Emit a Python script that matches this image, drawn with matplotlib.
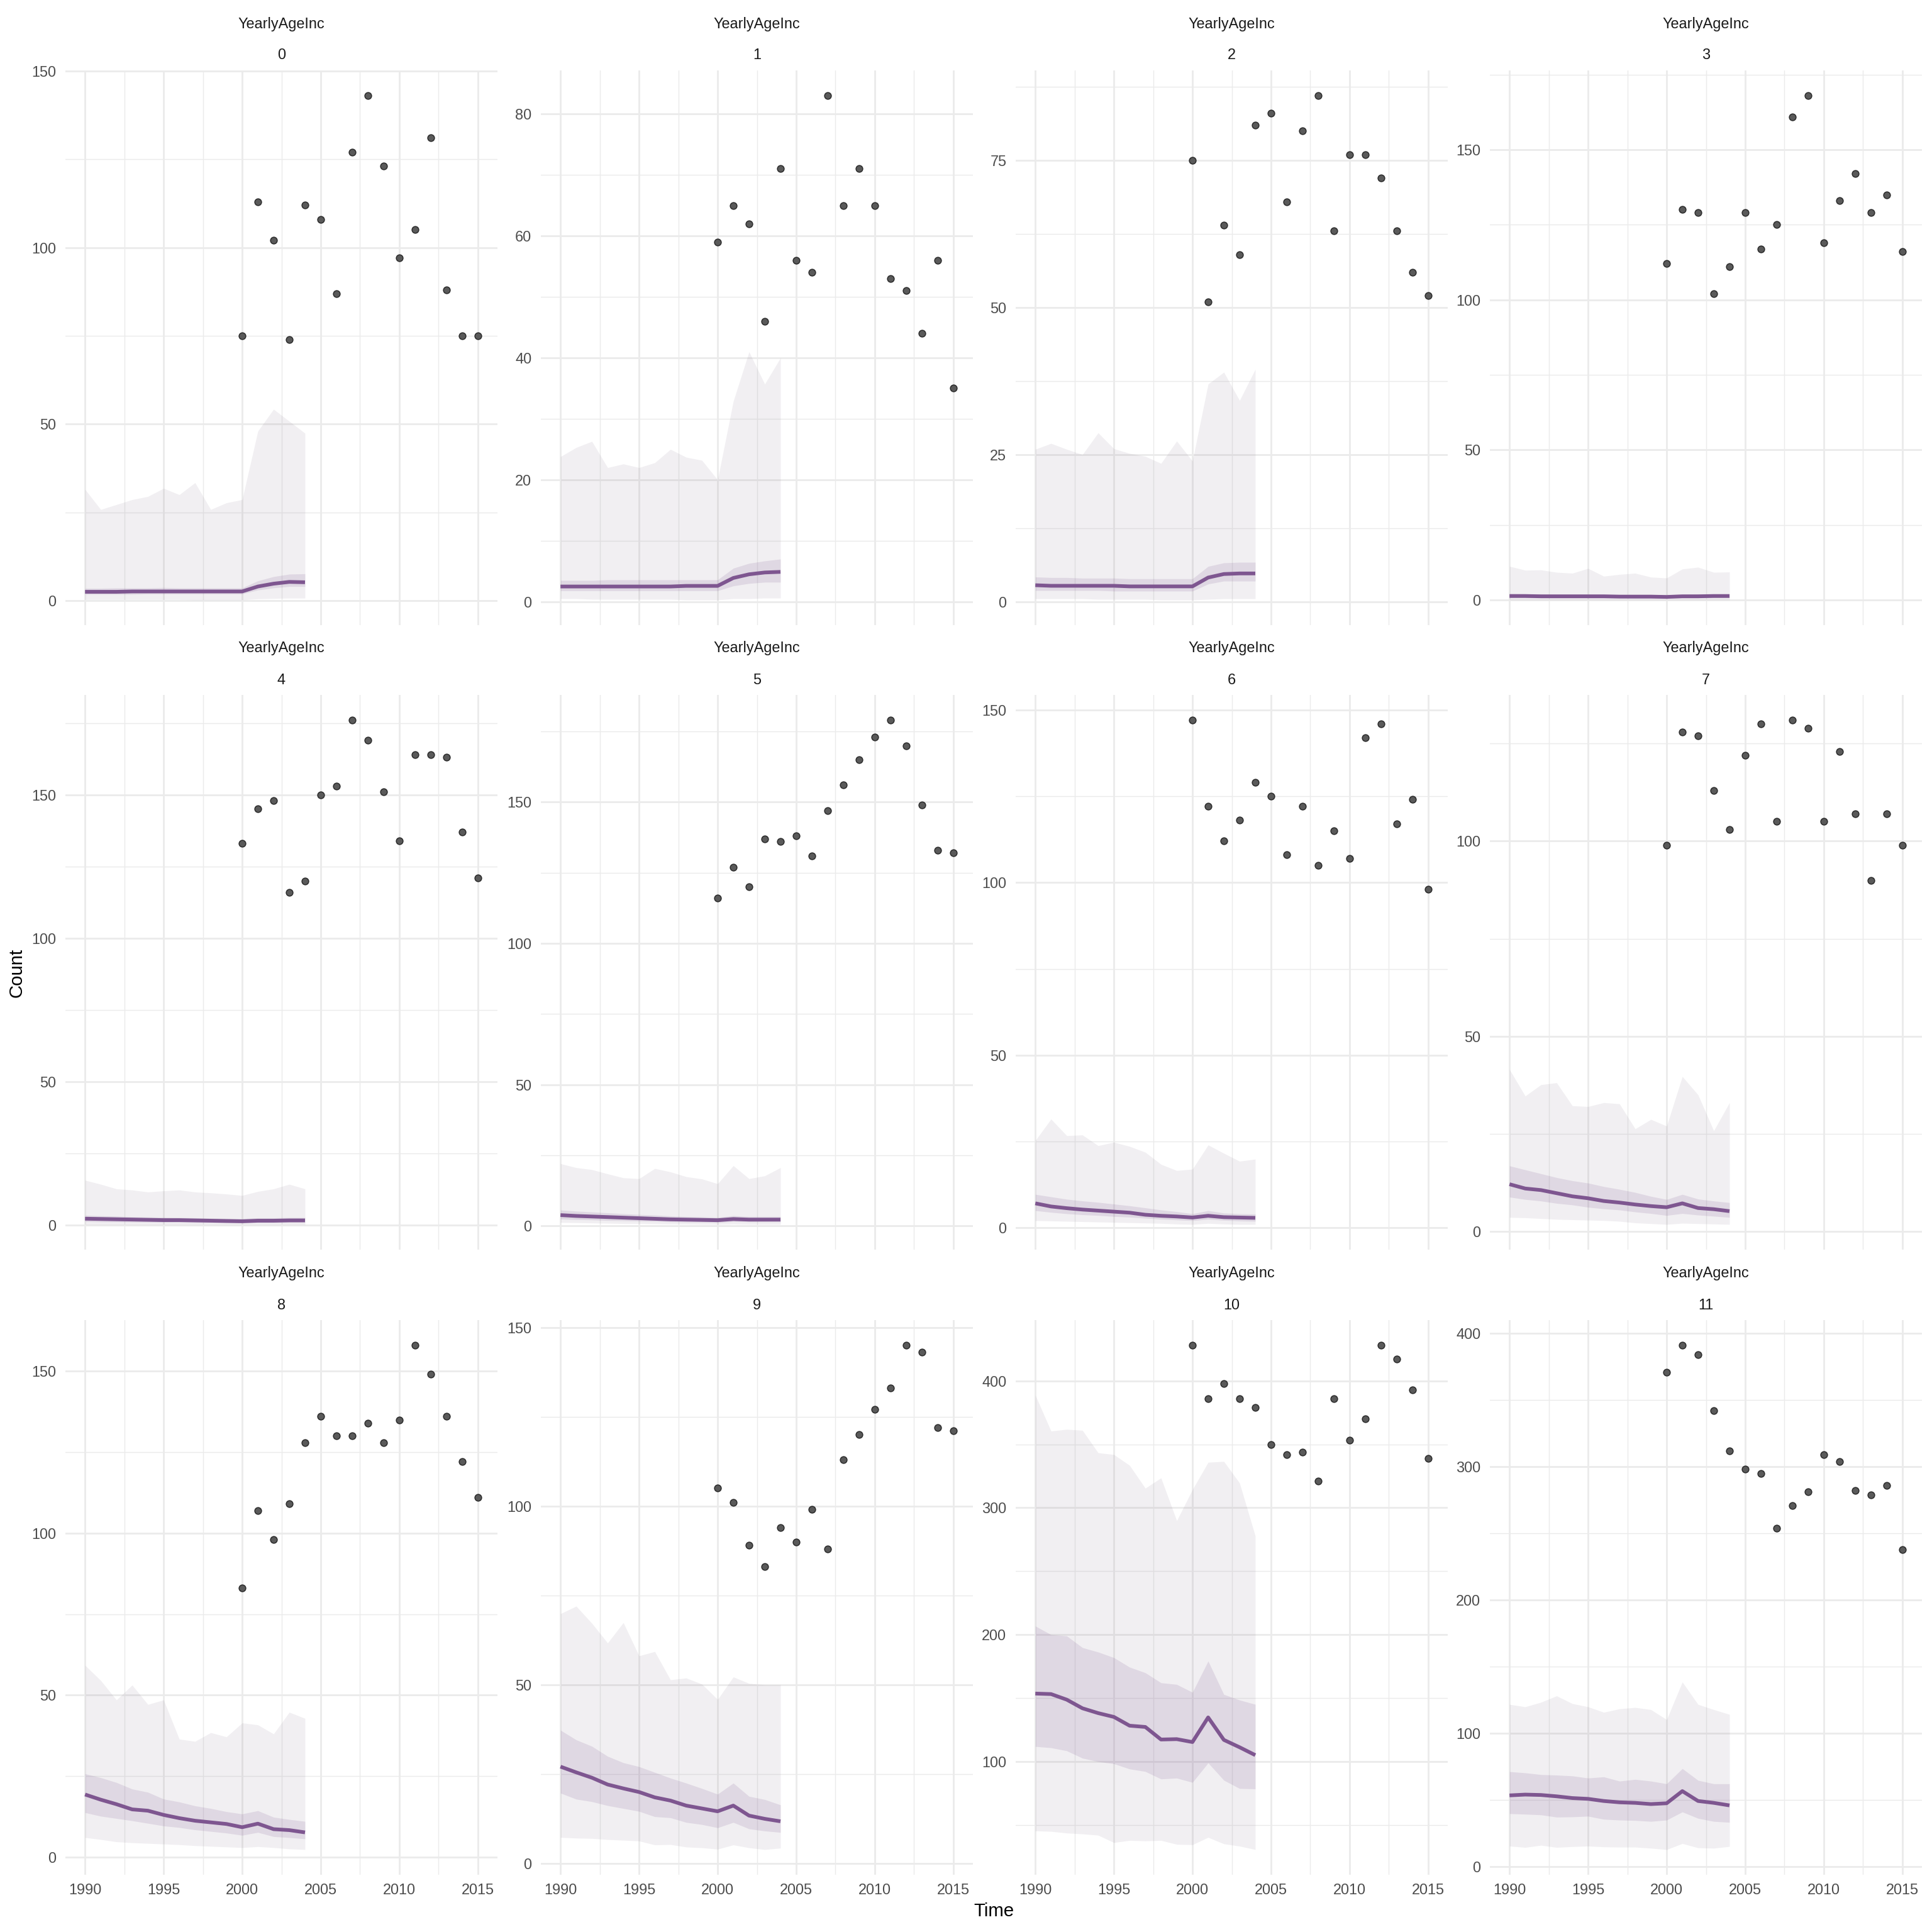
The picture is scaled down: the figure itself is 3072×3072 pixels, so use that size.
import numpy as np
import matplotlib
matplotlib.use("Agg")
import matplotlib.pyplot as plt
from matplotlib.ticker import MultipleLocator

plt.rcParams['font.family'] = ['Liberation Sans', 'DejaVu Sans']

# x categories
years_fit = np.arange(1990, 2005)
years_obs = np.arange(2000, 2016)
ages = list(range(12))

# observed yearly counts per age class (2000-2015)
counts = [
    [75, 113, 102, 74, 112, 108, 87, 127, 143, 123, 97, 105, 131, 88, 75, 75],
    [59, 65, 62, 46, 71, 56, 54, 83, 65, 71, 65, 53, 51, 44, 56, 35],
    [75, 51, 64, 59, 81, 83, 68, 80, 86, 63, 76, 76, 72, 63, 56, 52],
    [112, 130, 129, 102, 111, 129, 117, 125, 161, 168, 119, 133, 142, 129, 135, 116],
    [133, 145, 148, 116, 120, 150, 153, 176, 169, 151, 134, 164, 164, 163, 137, 121],
    [116, 127, 120, 137, 136, 138, 131, 147, 156, 165, 173, 179, 170, 149, 133, 132],
    [147, 122, 112, 118, 129, 125, 108, 122, 105, 115, 107, 142, 146, 117, 124, 98],
    [99, 128, 127, 113, 103, 122, 130, 105, 131, 129, 105, 123, 107, 90, 107, 99],
    [83, 107, 98, 109, 128, 136, 130, 130, 134, 128, 135, 158, 149, 136, 122, 111],
    [105, 101, 89, 83, 94, 90, 99, 88, 113, 120, 127, 133, 145, 143, 122, 121],
    [428, 386, 398, 386, 379, 350, 342, 344, 321, 386, 353, 370, 428, 417, 393, 339],
    [371, 391, 384, 342, 312, 298, 295, 254, 271, 281, 309, 304, 282, 279, 286, 238],
]

# fitted median (1990-2004)
median = [
    [2.5, 2.5, 2.5, 2.6, 2.6, 2.6, 2.6, 2.6, 2.6, 2.6, 2.6, 4.0, 4.8, 5.3, 5.2],
    [2.5, 2.5, 2.5, 2.5, 2.5, 2.5, 2.5, 2.5, 2.6, 2.6, 2.6, 3.9, 4.5, 4.8, 4.9],
    [2.8, 2.7, 2.7, 2.7, 2.7, 2.7, 2.6, 2.6, 2.6, 2.6, 2.6, 4.1, 4.7, 4.8, 4.8],
    [1.3, 1.3, 1.2, 1.2, 1.2, 1.2, 1.2, 1.1, 1.1, 1.1, 1.0, 1.2, 1.2, 1.3, 1.3],
    [2.2, 2.1, 2.0, 1.9, 1.8, 1.7, 1.7, 1.6, 1.5, 1.4, 1.3, 1.5, 1.5, 1.6, 1.6],
    [3.8, 3.5, 3.3, 3.1, 2.9, 2.7, 2.5, 2.3, 2.2, 2.1, 2.0, 2.4, 2.2, 2.2, 2.2],
    [7.1, 6.2, 5.7, 5.3, 5.0, 4.7, 4.4, 3.8, 3.5, 3.3, 3.0, 3.5, 3.1, 3.0, 2.9],
    [12.1, 11.0, 10.6, 9.8, 9.0, 8.5, 7.8, 7.4, 6.9, 6.5, 6.2, 7.2, 6.0, 5.7, 5.2],
    [19.3, 17.7, 16.3, 14.7, 14.3, 13.0, 12.0, 11.2, 10.7, 10.2, 9.2, 10.3, 8.6, 8.3, 7.6],
    [27.1, 25.5, 24.0, 22.1, 21.0, 20.0, 18.5, 17.6, 16.2, 15.4, 14.6, 16.2, 13.4, 12.5, 11.8],
    [153.6, 153.2, 148.8, 142.0, 138.2, 135.2, 128.3, 127.3, 117.4, 117.7, 115.4, 134.8, 117.1, 111.3, 105.1],
    [53.6, 54.2, 53.9, 52.9, 51.6, 51.0, 49.4, 48.4, 48.0, 47.1, 47.7, 56.8, 49.4, 48.0, 46.1],
]

# 50% interval
lo50 = [
    [1.8, 1.8, 1.8, 1.8, 1.9, 1.9, 1.9, 1.9, 1.9, 1.9, 1.9, 3.0, 3.6, 4.0, 4.0],
    [1.8, 1.8, 1.8, 1.8, 1.8, 1.8, 1.8, 1.8, 1.8, 1.8, 1.8, 2.6, 3.0, 3.2, 3.2],
    [1.9, 1.9, 1.9, 1.9, 1.9, 1.8, 1.8, 1.8, 1.8, 1.8, 1.8, 3.0, 3.5, 3.5, 3.5],
    [0.7, 0.7, 0.6, 0.6, 0.6, 0.6, 0.6, 0.6, 0.5, 0.5, 0.5, 0.6, 0.6, 0.7, 0.7],
    [1.2, 1.1, 1.1, 1.0, 1.0, 0.9, 0.9, 0.8, 0.8, 0.7, 0.7, 0.8, 0.8, 0.9, 0.9],
    [2.4, 2.2, 2.1, 1.9, 1.8, 1.7, 1.6, 1.4, 1.3, 1.3, 1.2, 1.5, 1.4, 1.4, 1.4],
    [5.0, 4.5, 4.1, 3.8, 3.6, 3.3, 3.1, 2.8, 2.5, 2.3, 2.1, 2.5, 2.2, 2.0, 1.9],
    [8.8, 8.2, 7.8, 7.2, 6.8, 6.2, 5.8, 5.5, 5.0, 4.6, 4.1, 4.6, 4.2, 3.9, 3.6],
    [13.7, 12.6, 11.9, 11.2, 10.4, 9.6, 9.1, 8.4, 7.9, 7.4, 6.7, 7.6, 6.3, 6.0, 5.6],
    [19.7, 18.0, 17.3, 16.2, 15.4, 14.6, 13.1, 12.8, 11.5, 10.9, 10.0, 11.5, 9.7, 9.1, 8.7],
    [111.9, 110.9, 108.5, 102.7, 100.0, 98.3, 94.2, 92.2, 86.3, 87.0, 83.6, 99.0, 85.3, 78.8, 78.5],
    [39.9, 39.5, 39.0, 37.3, 37.5, 38.0, 35.7, 35.1, 34.8, 34.1, 35.1, 41.2, 36.4, 34.1, 33.4],
]
hi50 = [
    [3.5, 3.5, 3.6, 3.6, 3.6, 3.7, 3.6, 3.6, 3.6, 3.6, 3.6, 5.6, 6.8, 7.5, 7.6],
    [3.5, 3.5, 3.5, 3.6, 3.6, 3.6, 3.6, 3.6, 3.6, 3.6, 3.6, 5.5, 6.3, 6.7, 7.0],
    [4.2, 4.1, 4.1, 4.0, 4.0, 4.0, 3.9, 3.9, 3.9, 3.9, 3.9, 6.0, 6.6, 6.7, 6.7],
    [2.1, 2.0, 2.0, 1.9, 1.9, 1.9, 1.9, 1.8, 1.8, 1.8, 1.7, 1.9, 2.0, 2.0, 2.0],
    [3.4, 3.2, 3.1, 2.9, 2.8, 2.7, 2.6, 2.5, 2.4, 2.3, 2.2, 2.5, 2.5, 2.6, 2.6],
    [5.6, 5.2, 4.9, 4.6, 4.3, 4.0, 3.8, 3.5, 3.3, 3.2, 3.0, 3.6, 3.3, 3.3, 3.3],
    [9.7, 9.0, 8.3, 7.8, 7.4, 6.9, 6.4, 5.8, 5.2, 4.7, 4.1, 5.0, 4.3, 4.1, 4.0],
    [16.8, 15.8, 14.8, 13.8, 13.0, 12.4, 11.5, 10.8, 10.0, 9.0, 8.2, 9.5, 8.3, 7.8, 7.4],
    [25.7, 24.5, 23.0, 21.0, 20.0, 17.9, 17.0, 15.8, 15.0, 14.0, 13.3, 14.3, 12.3, 11.6, 11.0],
    [37.3, 34.6, 32.8, 30.0, 28.2, 27.1, 25.5, 23.9, 22.5, 21.0, 19.4, 22.5, 18.8, 17.9, 16.4],
    [206.8, 200.0, 199.0, 189.8, 186.3, 181.9, 174.4, 170.0, 162.1, 160.8, 154.6, 179.2, 152.9, 148.5, 145.1],
    [71.4, 70.5, 69.2, 68.8, 68.2, 66.6, 67.5, 64.3, 65.6, 64.3, 62.3, 73.7, 64.9, 62.3, 62.3],
]

# 95% interval
lo95 = [
    [0.3, 0.3, 0.3, 0.3, 0.3, 0.3, 0.3, 0.2, 0.2, 0.2, 0.2, 0.5, 0.6, 0.7, 0.7],
    [0.5, 0.5, 0.4, 0.4, 0.4, 0.4, 0.4, 0.4, 0.3, 0.3, 0.3, 0.5, 0.5, 0.6, 0.6],
    [0.5, 0.5, 0.5, 0.5, 0.4, 0.4, 0.4, 0.4, 0.3, 0.3, 0.3, 0.4, 0.5, 0.5, 0.5],
    [0.0, 0.0, 0.0, 0.0, 0.0, 0.0, 0.0, 0.0, 0.0, 0.0, 0.0, 0.0, 0.0, 0.0, 0.0],
    [0.2, 0.2, 0.2, 0.2, 0.2, 0.2, 0.2, 0.2, 0.2, 0.2, 0.2, 0.2, 0.2, 0.2, 0.2],
    [1.2, 1.1, 1.0, 0.9, 0.8, 0.8, 0.7, 0.6, 0.6, 0.5, 0.5, 0.6, 0.5, 0.5, 0.5],
    [2.1, 2.0, 1.9, 1.8, 1.7, 1.6, 1.5, 1.4, 1.3, 1.1, 1.0, 1.3, 1.1, 1.0, 1.0],
    [3.6, 3.5, 3.3, 3.1, 3.0, 2.9, 2.8, 2.6, 2.2, 2.0, 1.8, 2.1, 2.0, 1.9, 1.8],
    [6.0, 5.4, 4.7, 4.4, 4.2, 4.0, 3.8, 3.5, 3.3, 3.1, 2.9, 3.2, 2.9, 2.5, 2.3],
    [7.3, 7.1, 7.0, 6.7, 6.5, 6.3, 5.2, 5.3, 4.6, 4.4, 4.0, 5.2, 4.4, 3.9, 4.3],
    [45.4, 45.0, 43.7, 43.0, 42.0, 36.2, 37.9, 37.5, 37.9, 34.8, 34.5, 40.3, 35.2, 33.4, 30.7],
    [15.6, 14.6, 16.2, 14.6, 15.2, 15.6, 15.0, 14.8, 14.8, 14.0, 13.0, 17.5, 14.3, 14.0, 15.3],
]
hi95 = [
    [31.5, 25.8, 27.2, 28.6, 29.5, 31.8, 30.0, 33.4, 25.8, 27.7, 28.6, 48.0, 54.2, 50.8, 47.4],
    [23.8, 25.3, 26.3, 22.0, 22.6, 22.0, 22.8, 25.0, 23.7, 23.2, 20.0, 32.9, 41.0, 35.7, 40.0],
    [25.9, 26.9, 25.9, 25.0, 28.7, 26.0, 25.2, 24.7, 23.5, 27.3, 23.9, 37.0, 39.0, 34.2, 39.5],
    [11.2, 9.9, 10.0, 9.2, 8.9, 10.5, 7.9, 8.5, 8.9, 7.6, 7.3, 10.3, 10.9, 9.2, 9.3],
    [15.6, 14.2, 12.6, 12.2, 11.5, 11.9, 12.2, 11.5, 11.2, 10.8, 10.3, 11.7, 12.6, 14.2, 12.6],
    [22.0, 20.6, 19.9, 18.4, 17.0, 16.7, 20.3, 19.1, 17.4, 16.6, 14.9, 21.3, 16.7, 17.7, 20.6],
    [25.3, 31.5, 26.7, 26.9, 23.8, 24.8, 23.6, 21.9, 18.4, 16.6, 17.0, 24.0, 21.6, 19.3, 19.9],
    [41.5, 34.7, 37.6, 38.1, 32.2, 32.0, 33.0, 32.7, 26.3, 28.7, 27.0, 39.7, 35.0, 25.8, 33.0],
    [59.2, 54.5, 48.5, 53.1, 47.1, 48.5, 36.4, 35.7, 38.4, 37.1, 41.4, 40.8, 38.0, 44.7, 42.8],
    [69.9, 72.0, 67.2, 61.7, 67.4, 58.1, 59.3, 51.4, 51.9, 50.2, 45.9, 52.2, 50.4, 50.0, 50.0],
    [388.7, 360.4, 361.8, 361.0, 343.3, 341.9, 333.4, 315.4, 323.5, 289.8, 314.3, 335.8, 336.5, 319.5, 277.8],
    [121.8, 120.0, 123.4, 128.2, 122.4, 120.0, 115.9, 118.5, 119.5, 117.9, 110.4, 138.6, 121.8, 117.9, 114.3],
]

# y tick step per panel
y_steps = [50, 20, 25, 50, 50, 50, 50, 50, 50, 50, 100, 100]

purple = '#7E5690'
band_outer = '#7A6A80'
grid_col = '#EBEBEB'
W = 3072
col_left = [104, 860, 1615, 2369]
row_top = [112, 1105, 2099]
pw, ph = 687, 882

fig = plt.figure(figsize=(16, 16), dpi=192)

for i in ages:
    r, c = divmod(i, 4)
    ax = fig.add_axes([col_left[c] / W, 1 - (row_top[r] + ph) / W, pw / W, ph / W])

    ax.fill_between(years_fit, lo95[i], hi95[i], color=band_outer, alpha=0.1, lw=0, zorder=2)
    ax.fill_between(years_fit, lo50[i], hi50[i], color=purple, alpha=0.15, lw=0, zorder=2)
    ax.plot(years_fit, median[i], color=purple, lw=2.2, zorder=3, solid_capstyle='butt')
    ax.scatter(years_obs, counts[i], s=16, color='#5A5A5A', edgecolors='#2E2E2E',
               linewidths=0.6, zorder=4)

    # ggplot style 5% expansion
    lo = min(min(lo95[i]), min(counts[i]))
    hi = max(max(hi95[i]), max(counts[i]))
    pad = 0.05 * (hi - lo)
    ax.set_ylim(lo - pad, hi + pad)
    ax.set_xlim(1990 - 0.05 * 25, 2015 + 0.05 * 25)

    ax.xaxis.set_major_locator(MultipleLocator(5))
    ax.xaxis.set_minor_locator(MultipleLocator(2.5))
    ax.yaxis.set_major_locator(MultipleLocator(y_steps[i]))
    ax.yaxis.set_minor_locator(MultipleLocator(y_steps[i] / 2))

    ax.grid(which='major', color=grid_col, lw=1.07, zorder=0)
    ax.grid(which='minor', color=grid_col, lw=0.55, zorder=0)
    ax.set_axisbelow(True)
    for s in ax.spines.values():
        s.set_visible(False)

    ax.tick_params(which='both', length=0, labelsize=8.8, labelcolor='#4D4D4D')
    ax.tick_params(axis='y', pad=5.5)
    ax.tick_params(axis='x', pad=5)
    if r < 2:
        ax.tick_params(axis='x', labelbottom=False)

    ax.annotate('YearlyAgeInc', xy=(0.5, 1), xycoords='axes fraction',
                xytext=(0, 74 * 72 / 192), textcoords='offset points',
                ha='center', va='center', fontsize=8.8, color='#1A1A1A')
    ax.annotate(str(i), xy=(0.5, 1), xycoords='axes fraction',
                xytext=(0, 24 * 72 / 192), textcoords='offset points',
                ha='center', va='center', fontsize=8.8, color='#1A1A1A')

fig.text(27 / W, 1 - 1547 / W, 'Count', rotation=90, fontsize=11,
         ha='center', va='center', color='black')
fig.text(1580 / W, 1 - 3039 / W, 'Time', fontsize=11,
         ha='center', va='center', color='black')

fig.savefig('out.png', dpi=192, facecolor='white')
